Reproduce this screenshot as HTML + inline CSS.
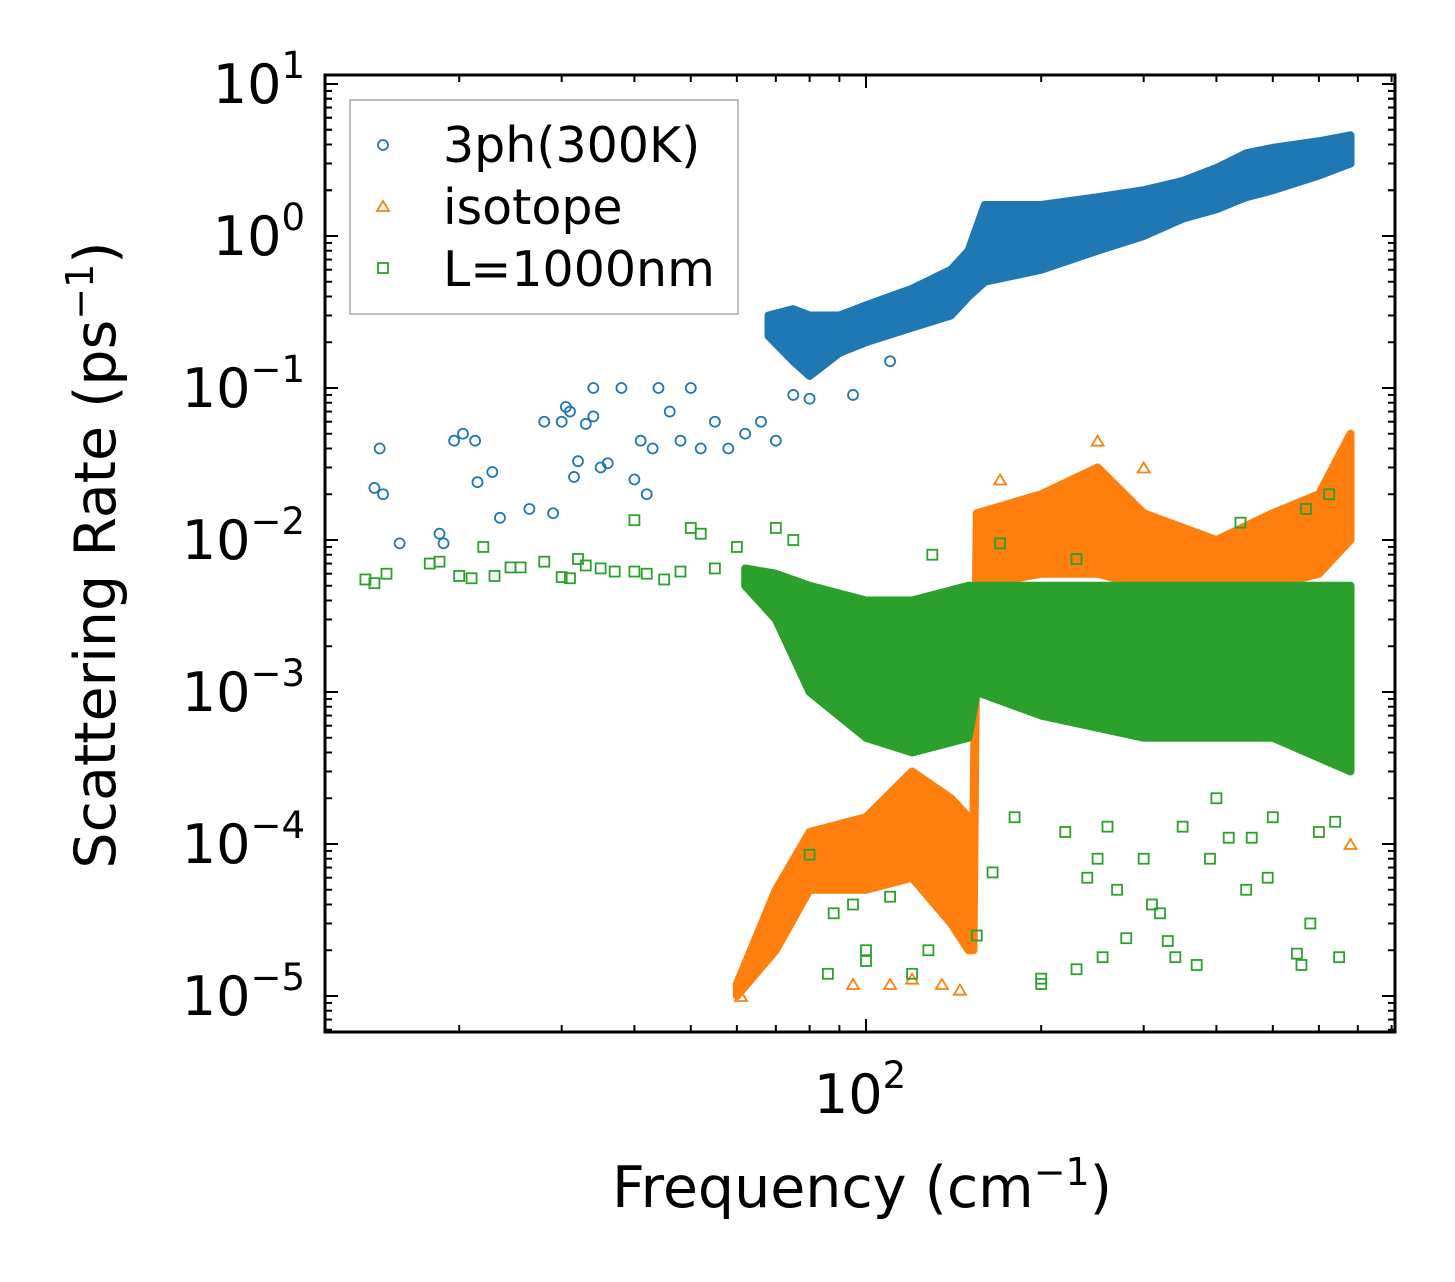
<!DOCTYPE html>
<html><head><meta charset="utf-8"><style>
html,body{margin:0;padding:0;background:#fff;}
svg{display:block;font-family:"DejaVu Sans","Liberation Sans",sans-serif;}
</style></head><body>
<svg id="chart" width="1455" height="1282" viewBox="0 0 1455 1282" xmlns="http://www.w3.org/2000/svg">
<rect width="1455" height="1282" fill="#fff"/>
<g id="bands"></g>
<g id="marks"></g>
<g id="axes"></g>
<text x="862" y="1207" font-size="57" text-anchor="middle">Frequency (cm<tspan dy="-22" font-size="38">−1</tspan><tspan dy="22">)</tspan></text>
<text transform="translate(115,555) rotate(-90)" font-size="57" text-anchor="middle">Scattering Rate (ps<tspan dy="-22" font-size="38">−1</tspan><tspan dy="22">)</tspan></text>
<g>
<rect x="350" y="100" width="388" height="214" fill="#fff" stroke="#aaa" stroke-width="1.5"/>
<g><circle cx="383" cy="145" r="5" fill="none" stroke="#1f77b4" stroke-width="1.8"/><text x="443" y="162" font-size="49">3ph(300K)</text></g>
<g><path d="M383,201 L389,211 L377,211 Z" fill="none" stroke="#ff7f0e" stroke-width="1.8"/><text x="443" y="224" font-size="49">isotope</text></g>
<g><rect x="378" y="263" width="10" height="10" fill="none" stroke="#2ca02c" stroke-width="1.8"/><text x="443" y="286" font-size="49">L=1000nm</text></g>
</g>
</svg>
<script>
// ---- data ----
const xTickMajor = [100];
const yTickMajorExp = [1,0,-1,-2,-3,-4,-5];
// dense band envelopes: [freq, low, high]
const bandFreq3ph = [68,75,80,90,100,120,140,150,160,200,250,300,350,400,450,500,600,680];
const bandLo3ph   = [0.22,0.15,0.12,0.17,0.2,0.25,0.3,0.4,0.5,0.6,0.8,1.0,1.3,1.5,1.8,2.0,2.5,3.0];
const bandHi3ph   = [0.3,0.33,0.3,0.3,0.35,0.45,0.6,0.8,1.6,1.6,1.8,2.0,2.3,2.8,3.5,3.8,4.2,4.6];
const bandFreqIso = [60,70,80,100,120,140,150,153,155,200,250,300,400,500,600,680];
const bandLoIso   = [1e-5,2e-5,5e-5,5e-5,6e-5,3e-5,2e-5,2e-5,5e-3,6e-3,6e-3,5e-3,4e-3,5e-3,6e-3,1e-2];
const bandHiIso   = [1.2e-5,5e-5,1.2e-4,1.5e-4,3e-4,2e-4,1.5e-4,1.5e-4,1.5e-2,2e-2,3e-2,1.5e-2,1e-2,1.5e-2,2e-2,5e-2];
const bandFreqBdy = [62,70,80,100,120,150,155,200,300,400,500,680];
const bandLoBdy   = [5e-3,3e-3,1e-3,5e-4,4e-4,5e-4,1e-3,7e-4,5e-4,5e-4,5e-4,3e-4];
const bandHiBdy   = [6.5e-3,6e-3,5e-3,4e-3,4e-3,5e-3,5e-3,5e-3,5e-3,5e-3,5e-3,5e-3];
// sparse points
const ptsFreq3ph = [14.3,14.6,14.8,15.8,18.5,18.8,19.6,20.3,21.3,21.5,22.8,23.5,26.4,28,29,30,30.5,31,31.5,32,33,34,34,35,36,38,40,41,42,43,44,46,48,50,52,55,58,62,66,70,75,80,95,110];
const ptsRate3ph = [0.022,0.04,0.02,0.0095,0.011,0.0095,0.045,0.05,0.045,0.024,0.028,0.014,0.016,0.06,0.015,0.06,0.075,0.07,0.026,0.033,0.058,0.065,0.1,0.03,0.032,0.1,0.025,0.045,0.02,0.04,0.1,0.07,0.045,0.1,0.04,0.06,0.04,0.05,0.06,0.045,0.09,0.085,0.09,0.15];
const ptsFreqIso = [61,95,110,120,135,145,170,250,300,680];
const ptsRateIso = [1e-5,1.2e-5,1.2e-5,1.3e-5,1.2e-5,1.1e-5,0.025,0.045,0.03,1e-4];
const ptsFreqBdy = [13.8,14.3,15,17.8,18.5,20,21,22,23,24.5,25.5,28,30,31,32,33,35,37,40,40,42,45,48,50,52,55,60,64,70,75,80,86,88,95,100,100,110,120,128,155,165,200,200,230,240,250,255,270,280,300,310,320,330,340,370,390,420,450,460,490,550,560,580,650,640,600,260,220,180,350,400,500,440,570,625,230,170,130];
const ptsRateBdy = [0.0055,0.0052,0.006,0.007,0.0072,0.0058,0.0056,0.009,0.0058,0.0066,0.0066,0.0072,0.0057,0.0056,0.0075,0.0068,0.0065,0.0062,0.0062,0.0135,0.006,0.0055,0.0062,0.012,0.011,0.0065,0.009,0.0055,0.012,0.01,8.5e-5,1.4e-5,3.5e-5,4e-5,2e-5,1.7e-5,4.5e-5,1.4e-5,2e-5,2.5e-5,6.5e-5,1.3e-5,1.2e-5,1.5e-5,6e-5,8e-5,1.8e-5,5e-5,2.4e-5,8e-5,4e-5,3.5e-5,2.3e-5,1.8e-5,1.6e-5,8e-5,1.1e-4,5e-5,1.1e-4,6e-5,1.9e-5,1.6e-5,3e-5,1.8e-5,1.4e-4,1.2e-4,1.3e-4,1.2e-4,1.5e-4,1.3e-4,2e-4,1.5e-4,0.013,0.016,0.02,0.0075,0.0095,0.008];

// ---- axes functions ----
const L=325,R=1395,T=75,B=1032;
const X = f => 866 + (Math.log10(f)-2)*582;
const Y = v => 236 - Math.log10(v)*152;
const NS="http://www.w3.org/2000/svg";
function mk(tag, parent, attrs){const e=document.createElementNS(NS,tag);for(const k in attrs)e.setAttribute(k,attrs[k]);parent.appendChild(e);return e;}

const bands=document.getElementById('bands');
function band(fr,lo,hi,color,name){
  let pts=fr.map((f,i)=>X(f)+','+Y(hi[i]));
  for(let i=fr.length-1;i>=0;i--)pts.push(X(fr[i])+','+Y(lo[i]));
  const p=mk('polygon',bands,{points:pts.join(' '),fill:color,stroke:color,'stroke-width':8,'stroke-linejoin':'round'});
  
  
}
band(bandFreqIso,bandLoIso,bandHiIso,'#ff7f0e','isotope-band');
band(bandFreqBdy,bandLoBdy,bandHiBdy,'#2ca02c','boundary-band');
band(bandFreq3ph,bandLo3ph,bandHi3ph,'#1f77b4','3ph-band');

const marks=document.getElementById('marks');
ptsFreq3ph.forEach((f,i)=>{
  const c=mk('circle',marks,{cx:X(f),cy:Y(ptsRate3ph[i]),r:5,fill:'none',stroke:'#1f77b4','stroke-width':1.8});
  
  
});
ptsFreqIso.forEach((f,i)=>{
  const x=X(f),y=Y(ptsRateIso[i]);
  const c=mk('path',marks,{d:`M${x},${y-5} L${x+6},${y+5} L${x-6},${y+5} Z`,fill:'none',stroke:'#ff7f0e','stroke-width':1.8});
  
  
});
ptsFreqBdy.forEach((f,i)=>{
  const c=mk('rect',marks,{x:X(f)-5,y:Y(ptsRateBdy[i])-5,width:10,height:10,fill:'none',stroke:'#2ca02c','stroke-width':1.8});
  
  
});

// ---- axes ----
const ax=document.getElementById('axes');
const frame=mk('rect',ax,{x:L,y:T,width:R-L,height:B-T,fill:'none',stroke:'#000','stroke-width':3});


function tick(x1,y1,x2,y2){mk('line',ax,{x1,y1,x2,y2,stroke:'#000','stroke-width':2});}
yTickMajorExp.forEach(e=>{
  const y=Y(Math.pow(10,e));
  tick(L,y,L+13,y);tick(R,y,R-13,y);
  const t=mk('text',ax,{x:305,y:y+19,'font-size':54,'text-anchor':'end'});
  
  
  t.innerHTML='10<tspan dy="-25" font-size="37">'+(e<0?'−'+(-e):e)+'</tspan>';
  for(let m=2;m<=9;m++){const ym=Y(m*Math.pow(10,e-1));if(ym>T&&ym<B){tick(L,ym,L+7,ym);tick(R,ym,R-7,ym);}}
});
for(let m=2;m<=9;m++){const ym=Y(m);if(ym>T){tick(L,ym,L+7,ym);tick(R,ym,R-7,ym);}}
xTickMajor.forEach(v=>{
  const x=X(v);
  tick(x,B,x,B-13);tick(x,T,x,T+13);
  const t=mk('text',ax,{x:x-6,y:1113,'font-size':54,'text-anchor':'middle'});
  
  
  t.innerHTML='10<tspan dy="-25" font-size="37">2</tspan>';
});
[20,30,40,50,60,70,80,90,200,300,400,500,600,700,800].forEach(v=>{
  const x=X(v);if(x>L&&x<R){tick(x,B,x,B-7);tick(x,T,x,T+7);}
});
</script>
</body></html>
